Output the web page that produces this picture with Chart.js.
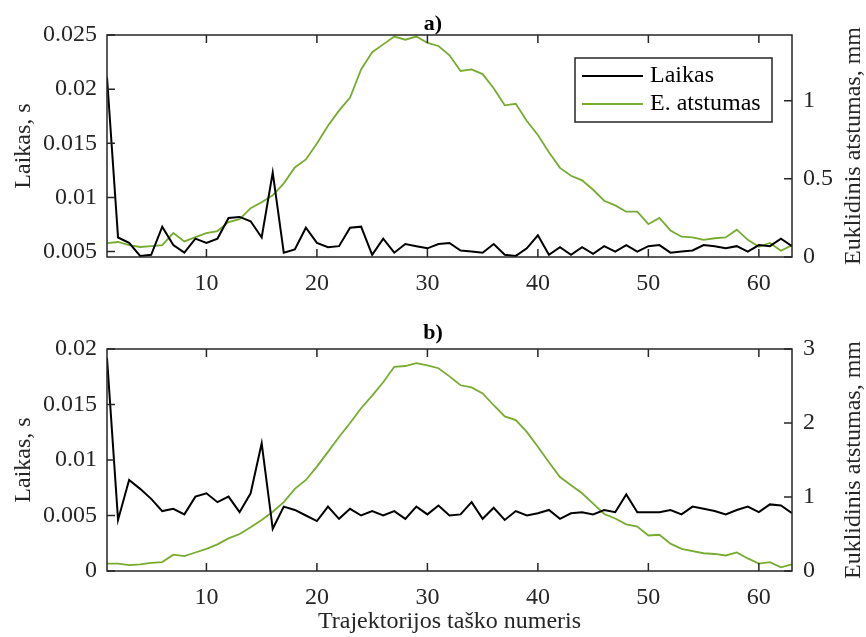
<!DOCTYPE html>
<html lang="lt">
<head>
<meta charset="UTF-8">
<title>Laikas ir Euklidinis atstumas</title>
<script src="https://cdn.jsdelivr.net/npm/chart.js@4.4.1/dist/chart.umd.min.js"></script>
<style>
  body { margin: 0; background: #fff; }
  #wrap { position: relative; width: 866px; height: 637px; }
  #wrap canvas { position: absolute; left: 0; }
</style>
</head>
<body>
<div id="wrap">
  <canvas id="chartA" width="866" height="300" style="top:0"></canvas>
  <canvas id="chartB" width="866" height="337" style="top:300px"></canvas>
</div>
<script>
// trajektorijos tasku numeriai
const taskai = [1, 2, 3, 4, 5, 6, 7, 8, 9, 10, 11, 12, 13, 14, 15, 16, 17, 18, 19, 20,
  21, 22, 23, 24, 25, 26, 27, 28, 29, 30, 31, 32, 33, 34, 35, 36, 37, 38, 39, 40,
  41, 42, 43, 44, 45, 46, 47, 48, 49, 50, 51, 52, 53, 54, 55, 56, 57, 58, 59, 60, 61, 62, 63];

// a) grafikas
const laikasA = [0.0211, 0.0063, 0.0058, 0.0046, 0.0047, 0.0073, 0.0056, 0.0049, 0.0062, 0.0058,
  0.0062, 0.0081, 0.0082, 0.0078, 0.0063, 0.0123, 0.0049, 0.0052, 0.0072, 0.0058,
  0.0054, 0.0055, 0.0072, 0.0073, 0.0047, 0.0062, 0.0049, 0.0057, 0.0055, 0.0053,
  0.0057, 0.0058, 0.0051, 0.0050, 0.0049, 0.0057, 0.0047, 0.0046, 0.0053, 0.0065,
  0.0047, 0.0054, 0.0047, 0.0054, 0.0048, 0.0055, 0.0050, 0.0056, 0.0050, 0.0055,
  0.0056, 0.0049, 0.0050, 0.0051, 0.0056, 0.0055, 0.0053, 0.0055, 0.0050, 0.0056,
  0.0055, 0.0062, 0.0055];
const atstumasA = [0.089, 0.096, 0.076, 0.064, 0.070, 0.076, 0.153, 0.100, 0.127, 0.153,
  0.166, 0.223, 0.242, 0.312, 0.350, 0.395, 0.471, 0.573, 0.624, 0.726,
  0.840, 0.936, 1.020, 1.200, 1.310, 1.360, 1.410, 1.390, 1.410, 1.370,
  1.350, 1.290, 1.190, 1.200, 1.170, 1.080, 0.970, 0.980, 0.870, 0.780,
  0.670, 0.570, 0.520, 0.490, 0.430, 0.360, 0.330, 0.290, 0.290, 0.210,
  0.250, 0.170, 0.130, 0.125, 0.110, 0.120, 0.125, 0.175, 0.110, 0.065,
  0.090, 0.040, 0.076];

// b) grafikas
const laikasB = [0.0192, 0.0046, 0.0082, 0.0074, 0.0065, 0.0054, 0.0056, 0.0051, 0.0067, 0.0070,
  0.0062, 0.0067, 0.0053, 0.0070, 0.0115, 0.0038, 0.0058, 0.0055, 0.0050, 0.0045,
  0.0058, 0.0047, 0.0056, 0.0050, 0.0054, 0.0050, 0.0054, 0.0047, 0.0058, 0.0051,
  0.0059, 0.0050, 0.0051, 0.0062, 0.0047, 0.0057, 0.0046, 0.0054, 0.0050, 0.0052,
  0.0055, 0.0047, 0.0052, 0.0053, 0.0051, 0.0055, 0.0053, 0.0069, 0.0053, 0.0053,
  0.0053, 0.0055, 0.0051, 0.0058, 0.0056, 0.0054, 0.0051, 0.0055, 0.0058, 0.0053,
  0.0060, 0.0059, 0.0052];
const atstumasB = [0.10, 0.10, 0.08, 0.09, 0.11, 0.12, 0.22, 0.20, 0.25, 0.30,
  0.36, 0.44, 0.50, 0.59, 0.69, 0.80, 0.93, 1.11, 1.23, 1.41,
  1.61, 1.81, 2.00, 2.20, 2.37, 2.55, 2.76, 2.77, 2.81, 2.78,
  2.74, 2.63, 2.51, 2.48, 2.40, 2.24, 2.09, 2.04, 1.88, 1.68,
  1.47, 1.27, 1.16, 1.05, 0.91, 0.77, 0.71, 0.63, 0.60, 0.48,
  0.49, 0.37, 0.30, 0.27, 0.24, 0.23, 0.21, 0.25, 0.17, 0.10,
  0.12, 0.05, 0.09];

// asiu padalos
const xTicks = [10, 20, 30, 40, 50, 60];
const laikasTicksA = [0.005, 0.01, 0.015, 0.02, 0.025];
const atstumasTicksA = [0, 0.5, 1];
const laikasTicksB = [0, 0.005, 0.01, 0.015, 0.02];
const atstumasTicksB = [0, 1, 2, 3];

const JUODA = '#000000';
const ZALIA = '#77AC30';
const ASIS = '#262626';

Chart.defaults.font.family = '"Liberation Serif", "Times New Roman", serif';
Chart.defaults.font.size = 24;
Chart.defaults.color = ASIS;

// remelis, i vidu nukreiptos padalos, desines asies pavadinimas ir legenda
const matlabStilius = {
  id: 'matlabStilius',
  afterDatasetsDraw(chart, args, opts) {
    const ctx = chart.ctx;
    const a = chart.chartArea;
    const tl = 8;
    ctx.save();
    ctx.strokeStyle = ASIS;
    ctx.lineWidth = 1.5;
    ctx.beginPath();
    chart.scales.x.ticks.forEach(t => {
      const px = chart.scales.x.getPixelForValue(t.value);
      ctx.moveTo(px, a.bottom); ctx.lineTo(px, a.bottom - tl);
      ctx.moveTo(px, a.top); ctx.lineTo(px, a.top + tl);
    });
    chart.scales.yL.ticks.forEach(t => {
      const py = chart.scales.yL.getPixelForValue(t.value);
      ctx.moveTo(a.left, py); ctx.lineTo(a.left + tl, py);
    });
    chart.scales.yR.ticks.forEach(t => {
      const py = chart.scales.yR.getPixelForValue(t.value);
      ctx.moveTo(a.right, py); ctx.lineTo(a.right - tl, py);
    });
    ctx.stroke();
    ctx.strokeRect(a.left, a.top, a.right - a.left, a.bottom - a.top);

    // desines asies pavadinimas (skaitomas is apacios i virsu)
    ctx.fillStyle = ASIS;
    ctx.font = '24px "Liberation Serif", "Times New Roman", serif';
    ctx.textAlign = 'center';
    ctx.textBaseline = 'middle';
    ctx.translate(chart.width - 12, (a.top + a.bottom) / 2);
    ctx.rotate(-Math.PI / 2);
    ctx.fillText(opts.desinysPavadinimas, 0, 0);
    ctx.restore();

    if (opts.legenda) {
      const w = 197, h = 64;
      const left = a.right - 20 - w, top = a.top + 23;
      ctx.save();
      ctx.fillStyle = '#fff';
      ctx.fillRect(left, top, w, h);
      ctx.strokeStyle = ASIS;
      ctx.lineWidth = 1.5;
      ctx.strokeRect(left, top, w, h);
      ctx.font = '24px "Liberation Serif", "Times New Roman", serif';
      ctx.textBaseline = 'middle';
      ctx.textAlign = 'left';
      chart.data.datasets.forEach((ds, i) => {
        const y = top + 18 + i * 28;
        ctx.strokeStyle = ds.borderColor;
        ctx.lineWidth = ds.borderWidth;
        ctx.beginPath();
        ctx.moveTo(left + 7, y);
        ctx.lineTo(left + 68, y);
        ctx.stroke();
        ctx.fillStyle = '#000';
        ctx.fillText(ds.label, left + 75, y);
      });
      ctx.restore();
    }
  }
};

function sukurtiGrafika(id, p) {
  const ctx = document.getElementById(id).getContext('2d');
  return new Chart(ctx, {
    type: 'line',
    data: {
      labels: taskai,
      datasets: [
        {
          label: 'Laikas',
          data: p.laikas,
          yAxisID: 'yL',
          borderColor: JUODA,
          borderWidth: 2,
          pointRadius: 0,
          tension: 0
        },
        {
          label: 'E. atstumas',
          data: p.atstumas,
          yAxisID: 'yR',
          borderColor: ZALIA,
          borderWidth: 1.8,
          pointRadius: 0,
          tension: 0
        }
      ]
    },
    options: {
      responsive: false,
      animation: false,
      events: [],
      layout: { padding: 0 },
      plugins: {
        legend: { display: false },
        tooltip: { enabled: false },
        title: {
          display: true,
          text: p.pavadinimas,
          color: '#000',
          font: { size: 22, weight: 'bold', lineHeight: 1 },
          padding: p.pavadinimoTarpai
        },
        matlabStilius: { legenda: p.legenda, desinysPavadinimas: 'Euklidinis atstumas, mm' }
      },
      scales: {
        x: {
          type: 'linear',
          min: 1,
          max: 63,
          grid: { display: false, drawTicks: false },
          border: { display: false },
          ticks: { padding: 12, maxRotation: 0, autoSkip: false },
          afterBuildTicks: s => { s.ticks = xTicks.map(v => ({ value: v })); },
          afterFit: s => { s.height = p.xAukstis; },
          title: {
            display: p.xPavadinimas,
            text: 'Trajektorijos taško numeris',
            padding: { top: 0, bottom: 1 }
          }
        },
        yL: {
          type: 'linear',
          position: 'left',
          min: p.laikasMin,
          max: p.laikasMax,
          grid: { display: false, drawTicks: false },
          border: { display: false },
          ticks: { padding: 10, autoSkip: false, callback: v => String(v) },
          afterBuildTicks: s => { s.ticks = p.laikasTicks.map(v => ({ value: v })); },
          afterFit: s => { s.width = 107; },
          title: { display: true, text: 'Laikas, s', padding: { top: 9, bottom: 0 } }
        },
        yR: {
          type: 'linear',
          position: 'right',
          min: 0,
          max: p.atstumasMax,
          grid: { display: false, drawTicks: false },
          border: { display: false },
          ticks: { padding: 11, autoSkip: false, callback: v => String(v) },
          afterBuildTicks: s => { s.ticks = p.atstumasTicks.map(v => ({ value: v })); },
          afterFit: s => { s.width = 74; }
        }
      }
    },
    plugins: [matlabStilius]
  });
}

sukurtiGrafika('chartA', {
  laikas: laikasA,
  atstumas: atstumasA,
  pavadinimas: 'a)',
  pavadinimoTarpai: { top: 13, bottom: 0 },
  legenda: true,
  xAukstis: 43,
  xPavadinimas: false,
  laikasMin: 0.0045,
  laikasMax: 0.025,
  laikasTicks: laikasTicksA,
  atstumasMax: 1.42,
  atstumasTicks: atstumasTicksA
});

sukurtiGrafika('chartB', {
  laikas: laikasB,
  atstumas: atstumasB,
  pavadinimas: 'b)',
  pavadinimoTarpai: { top: 22, bottom: 5 },
  legenda: false,
  xAukstis: 66,
  xPavadinimas: true,
  laikasMin: 0,
  laikasMax: 0.02,
  laikasTicks: laikasTicksB,
  atstumasMax: 3,
  atstumasTicks: atstumasTicksB
});
</script>
</body>
</html>
